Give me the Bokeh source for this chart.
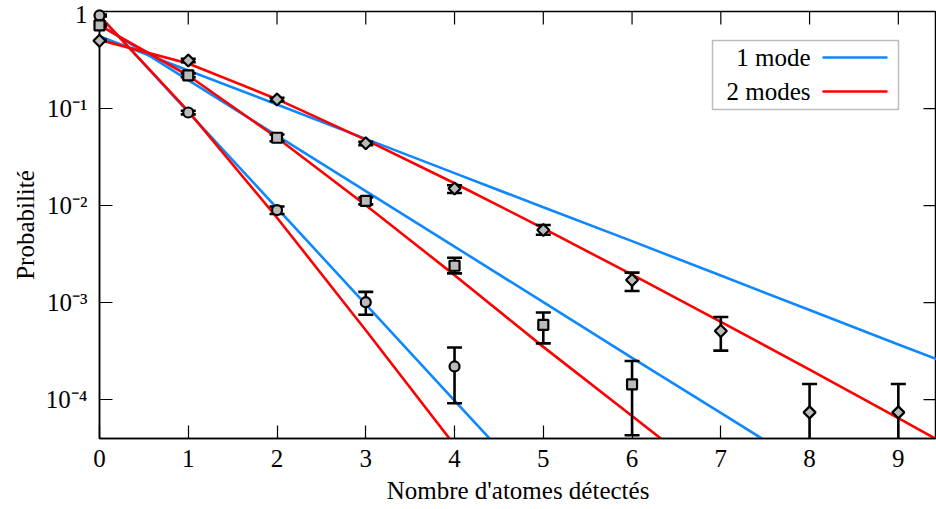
import numpy as np
from bokeh.plotting import figure
from bokeh.models import FixedTicker, CustomJSTickFormatter, Range1d, Label, BoxAnnotation
from bokeh.embed import file_html
from bokeh.resources import INLINE

n_circ = [0, 1, 2, 3, 4]
p_circ = [0.91, 0.091, 0.0090, 0.00101, 0.00022]
lo_circ = [0.89, 0.087, 0.0082, 0.00075, 9.2e-5]
hi_circ = [0.93, 0.095, 0.0098, 0.00129, 3.45e-4]

n_sq = [0, 1, 2, 3, 4, 5, 6]
p_sq = [0.72, 0.22, 0.050, 0.0112, 0.0024, 0.00059, 0.000144]
lo_sq = [0.70, 0.21, 0.046, 0.0103, 0.0020, 0.00038, 4.3e-5]
hi_sq = [0.74, 0.23, 0.054, 0.0121, 0.0029, 0.00079, 2.5e-4]

n_dia = [0, 1, 2, 3, 4, 5, 6, 7, 8, 9]
p_dia = [0.50, 0.313, 0.124, 0.0438, 0.0150, 0.0056, 0.00171, 0.00051, 7.4e-5, 7.4e-5]
lo_dia = [0.49, 0.30, 0.119, 0.042, 0.0135, 0.0050, 0.00132, 0.00032, 1e-6, 1e-6]  # last two below axis
hi_dia = [0.51, 0.325, 0.129, 0.0455, 0.0162, 0.0063, 0.00204, 0.00071, 1.45e-4, 1.45e-4]

# ---- model curves (at integer n) ----
n_b1 = [0, 1, 2, 3, 4, 5]
v_b1 = [0.905, 0.092, 0.0094, 0.00096, 9.8e-5, 1.0e-5]
n_r1 = [0, 1, 2, 3, 4]
v_r1 = [0.90, 0.094, 0.0075, 0.00052, 3.4e-5]
n_b2 = [0, 1, 2, 3, 4, 5, 6, 7, 8]
v_b2 = [0.732, 0.196, 0.0526, 0.0141, 0.00378, 0.00101, 2.7e-4, 7.3e-5, 1.96e-5]
n_r2 = [0, 1, 2, 3, 4, 5, 6, 7]
v_r2 = [0.72, 0.219, 0.050, 0.0101, 0.00192, 3.5e-4, 6.8e-5, 1.3e-5]
n_b3 = [0, 1, 2, 3, 4, 5, 6, 7, 8, 9, 10]
v_b3 = [0.556, 0.247, 0.110, 0.0487, 0.0216, 0.0096, 0.0043, 0.0019, 8.4e-4, 3.7e-4, 1.65e-4]
n_r3 = [0, 1, 2, 3, 4, 5, 6, 7, 8, 9, 10]
v_r3 = [0.510, 0.2915, 0.1249, 0.0476, 0.0170, 0.00583, 0.00194, 6.34e-4, 2.04e-4, 6.47e-5, 2.0e-5]

x_ticks = [0, 1, 2, 3, 4, 5, 6, 7, 8, 9]
y_ticks = [1e-4, 1e-3, 1e-2, 1e-1, 1]
X_MIN, X_MAX = 0, 9.43
Y_MIN, Y_MAX = 3.98e-5, 1

FONT = "Liberation Serif"
FS = "25px"
BLUE = "#0f88ff"
RED = "#ff0000"
GRAY = "#bbbbbb"

p = figure(width=936, height=509, x_range=Range1d(X_MIN, X_MAX), y_range=Range1d(Y_MIN, Y_MAX),
           y_axis_type="log", output_backend="svg", toolbar_location=None,
           min_border_left=99, min_border_top=11, min_border_right=0, min_border_bottom=71)
p.grid.visible = False
p.outline_line_color = "black"
p.outline_line_width = 1.5
p.background_fill_color = "white"

sup = CustomJSTickFormatter(code="""
const e = Math.round(Math.log10(tick));
if (e == 0) return '1';
const m = {'-':'\u207b','0':'\u2070','1':'\u00b9','2':'\u00b2','3':'\u00b3','4':'\u2074','5':'\u2075'};
return '10' + String(e).split('').map(c => m[c]).join('');
""")

xa = p.xaxis[0]
xa.ticker = FixedTicker(ticks=x_ticks, minor_ticks=[])
ya = p.yaxis[0]
ya.ticker = FixedTicker(ticks=y_ticks, minor_ticks=[])
ya.formatter = sup

for ax in (xa, ya):
    ax.major_tick_in = 13
    ax.major_tick_out = 0
    ax.minor_tick_line_color = None
    ax.major_tick_line_width = 1.2
    ax.axis_line_width = 1.5
    ax.axis_line_color = "black"
    ax.major_tick_line_color = "black"
    ax.major_label_text_font = FONT
    ax.major_label_text_font_size = FS
    ax.major_label_text_color = "black"
    ax.axis_label_text_font = FONT
    ax.axis_label_text_font_size = FS
    ax.axis_label_text_font_style = "normal"
    ax.axis_label_text_color = "black"

xa.major_label_standoff = 11
ya.major_label_standoff = 12
xa.axis_label = "Nombre d'atomes détectés"
xa.axis_label_standoff = 7
ya.axis_label = "Probabilité"
ya.axis_label_standoff = 4

# mirrored ticks on top and right edges (half of each mark is clipped by the frame)
p.scatter(x_ticks, [Y_MAX] * len(x_ticks), marker="dash", angle=np.pi / 2, size=26,
          line_color="black", line_width=1.2)
p.scatter([X_MAX] * len(y_ticks), y_ticks, marker="dash", size=26,
          line_color="black", line_width=1.2)

# model curves
p.line(n_b1, v_b1, line_color=BLUE, line_width=2.6)
p.line(n_b2, v_b2, line_color=BLUE, line_width=2.6)
p.line(n_b3, v_b3, line_color=BLUE, line_width=2.6)
p.line(n_r1, v_r1, line_color=RED, line_width=2.6)
p.line(n_r2, v_r2, line_color=RED, line_width=2.6)
p.line(n_r3, v_r3, line_color=RED, line_width=2.6)

# error bars + markers
for xs, ys, lo, hi, mk, sz, ang in [
        (n_circ, p_circ, lo_circ, hi_circ, "circle", 10, 0.0),
        (n_sq, p_sq, lo_sq, hi_sq, "square", 10, 0.0),
        (n_dia, p_dia, lo_dia, hi_dia, "square", 8.5, np.pi / 4)]:
    p.segment(x0=xs, y0=lo, x1=xs, y1=hi, line_color="black", line_width=2.6)
    p.scatter(xs, lo, marker="dash", size=15, line_color="black", line_width=2.6)
    p.scatter(xs, hi, marker="dash", size=15, line_color="black", line_width=2.6)
    p.scatter(xs, ys, marker=mk, size=sz, angle=ang, fill_color=GRAY, line_color="black",
              line_width=2.2, level="overlay")

# legend (gnuplot style: text then line sample)
p.add_layout(BoxAnnotation(left=613, right=799, bottom=329, top=398,
                           left_units="screen", right_units="screen",
                           bottom_units="screen", top_units="screen",
                           fill_color="white", fill_alpha=1.0,
                           line_color="#222222", line_width=1.5))
for yy, txt, col in [(381, "1 mode", BLUE), (347, "2 modes", RED)]:
    p.add_layout(Label(x=711, y=yy, x_units="screen", y_units="screen", text=txt,
                       text_align="right", text_baseline="middle",
                       text_font=FONT, text_font_size=FS, text_color="black"))
    p.add_layout(BoxAnnotation(left=723, right=788, bottom=yy - 1.3, top=yy + 1.3,
                               left_units="screen", right_units="screen",
                               bottom_units="screen", top_units="screen",
                               fill_color=col, fill_alpha=1.0, line_color=None))

open("out.html", "w").write(file_html(p, INLINE))
